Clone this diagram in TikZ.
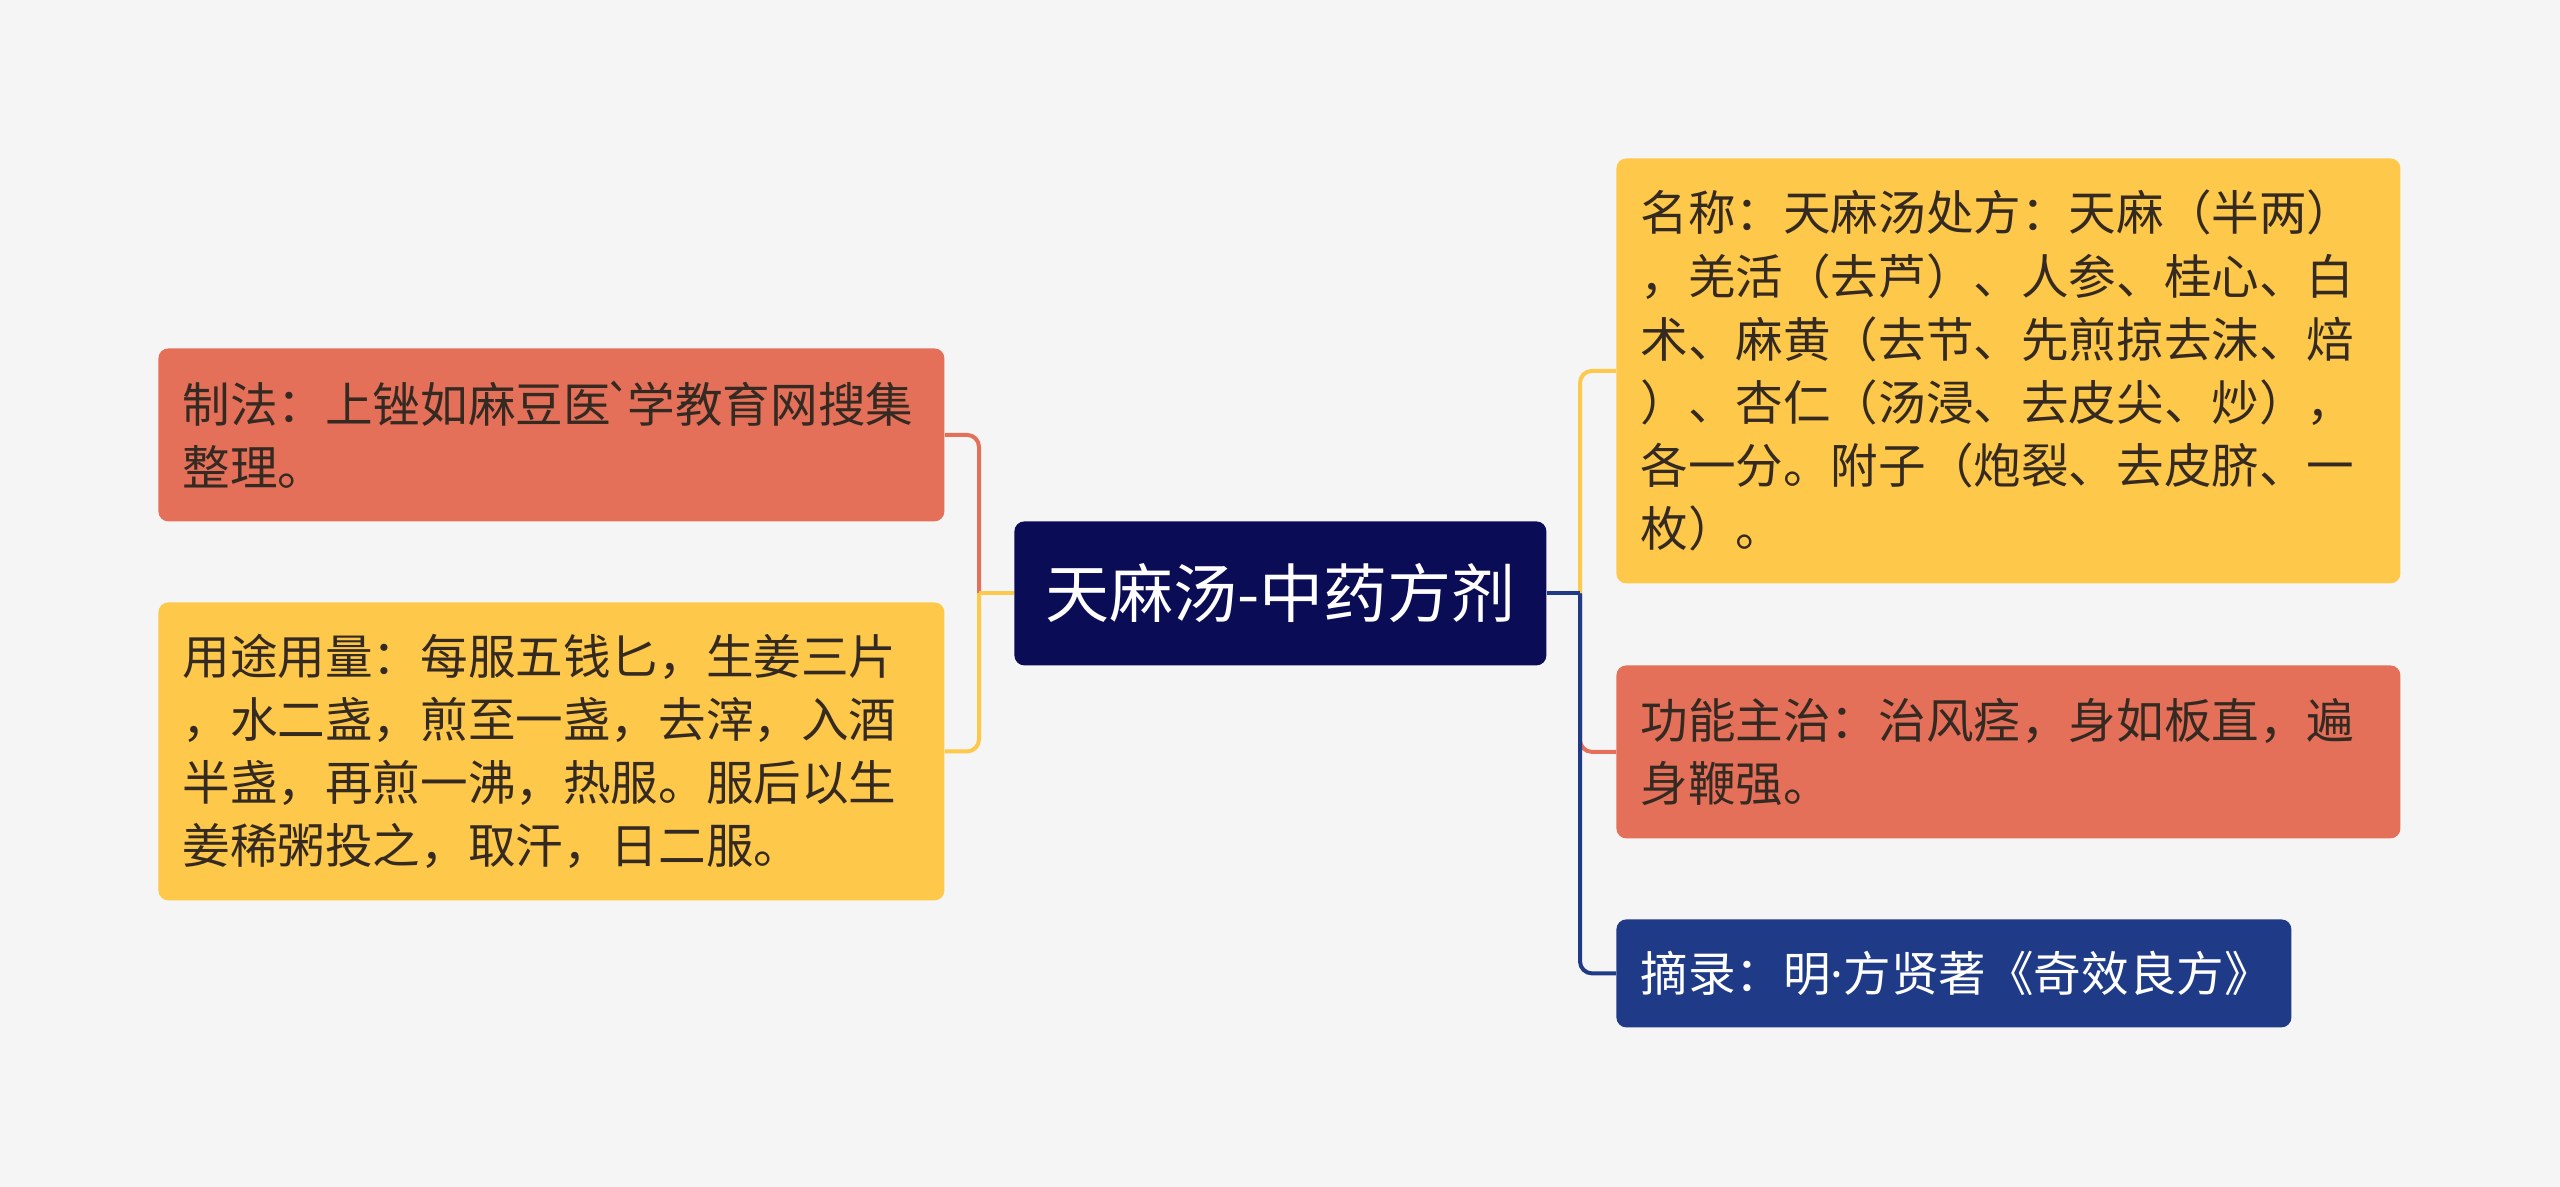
\documentclass[tikz,border=0pt]{standalone}
\usepackage{fontspec}
\setmainfont{Noto Sans CJK SC}[Ligatures=TeXOff]
\newfontfamily\latinfont{Noto Sans}
\definecolor{bgc}{HTML}{F5F5F5}
\definecolor{cY}{HTML}{FEC94A}
\definecolor{cR}{HTML}{E4705A}
\definecolor{cN}{HTML}{0B0C56}
\definecolor{cB}{HTML}{1F3B87}
\definecolor{txt}{HTML}{352A22}
\begin{document}
\begin{tikzpicture}[x=0.5pt,y=-0.5pt,
  box/.style={rounded corners=5pt, inner xsep=12pt, inner ysep=0pt, align=left,
    anchor=north west, text=txt, font=\fontsize{23.8}{31.6}\selectfont},
  link/.style={line width=2pt, rounded corners=6pt}]
\fill[bgc] (0,0) rectangle (2560,1187);
\useasboundingbox (0,0) rectangle (2560,1187);
% central node
\node[box, fill=cN, text=white, align=center, text width=242pt, minimum height=72pt,
  font=\fontsize{32}{38}\selectfont] (c) at (1014,521) {天麻汤-中药方剂};
% left nodes
\node[box, fill=cR, text width=369pt, minimum height=86.5pt] (l1) at (158,348)
  {制法：上锉如麻豆医\kern-3pt\char"60\kern-3pt 学教育网搜集\\整理。};
\node[box, fill=cY, text width=369pt, minimum height=149pt] (l2) at (158,602)
  {用途用量：每服五钱匕，生姜三片\\，水二盏，煎至一盏，去滓，入酒\\半盏，再煎一沸，热服。服后以生\\姜稀粥投之，取汗，日二服。};
% right nodes
\node[box, fill=cY, text width=368pt, minimum height=212.5pt] (r1) at (1616,158)
  {名称：天麻汤处方：天麻（半两）\\，羌活（去芦）、人参、桂心、白\\术、麻黄（去节、先煎掠去沫、焙\\）、杏仁（汤浸、去皮尖、炒），\\各一分。附子（炮裂、去皮脐、一\\枚）。};
\node[box, fill=cR, text width=368pt, minimum height=86.5pt] (r2) at (1616,665)
  {功能主治：治风痉，身如板直，遍\\身鞭强。};
\node[box, fill=cB, text=white, text width=313.5pt, minimum height=54pt] (r3) at (1616,919)
  {摘录：明{\latinfont ·}方贤著《奇效良方》};
% trunks
\coordinate (lj) at (979,593);
\coordinate (rj) at (1580,593);
% left connectors
\draw[link, cR] (c.west -| lj) -- (l1.east -| lj) -- (l1.east);
\draw[link, cY] (c.west -| lj) -- (l2.east -| lj) -- (l2.east);
\draw[line width=2pt, cY] (c.west) -- (c.west -| lj);
% right connectors
\draw[link, cY] (c.east -| rj) -- (r1.west -| rj) -- (r1.west);
\draw[link, cR] (c.east -| rj) -- (r2.west -| rj) -- (r2.west);
\draw[link, cB] (c.east -| rj) -- (r3.west -| rj) -- (r3.west);
\draw[line width=2pt, cB] (c.east) -- (c.east -| rj);
\end{tikzpicture}
\end{document}
